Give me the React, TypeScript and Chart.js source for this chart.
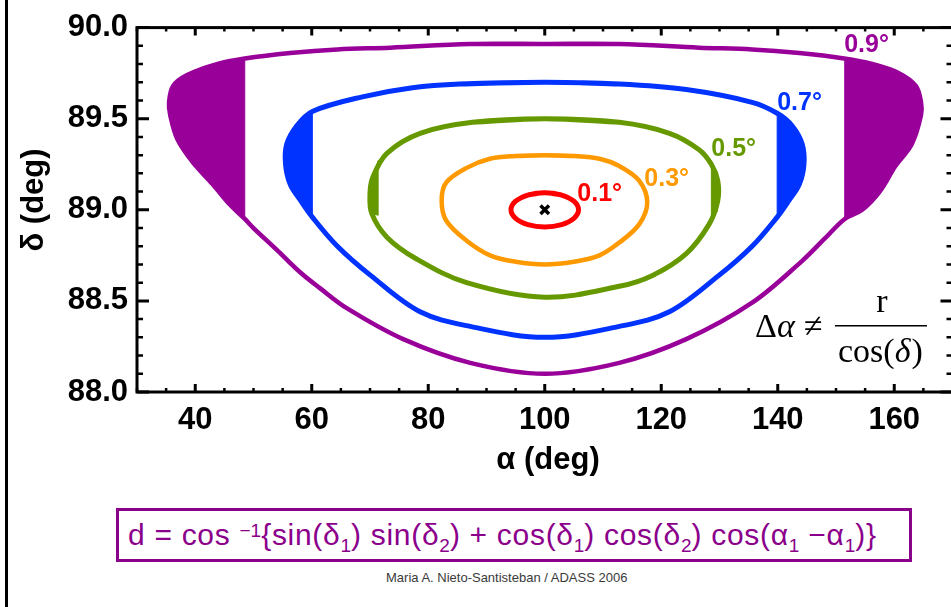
import React, { useEffect, useRef } from 'react';
import { Chart, registerables } from 'chart.js';

Chart.register(...registerables);

// ---------- tick labels ----------
const xTickValues = [40, 60, 80, 100, 120, 140, 160];
const yTickValues = [88.0, 88.5, 89.0, 89.5, 90.0];

// ---------- 0.9 deg contour ----------
const c09Alpha = [100, 112.8, 126.5, 135.6, 143.7, 151.4, 156.2, 160.8, 163.7, 164.6, 164.6, 163.0, 160.2, 157.5, 154.5, 151.5, 148.0, 144.2, 135.6, 124.3, 112.8, 100, 87.2, 75.7, 66.0, 61.4, 57.9, 54.0, 50.0, 48.5, 45.9, 43.0, 39.6, 36.9, 35.7, 35.5, 36.2, 38.6, 43.7, 48.5, 56.3, 64.4, 73.5, 87.2, 100];
const c09Delta = [89.91, 89.91, 89.89, 89.88, 89.86, 89.83, 89.80, 89.75, 89.68, 89.59, 89.52, 89.36, 89.24, 89.10, 89.00, 88.95, 88.84, 88.72, 88.49, 88.29, 88.16, 88.10, 88.16, 88.29, 88.46, 88.57, 88.66, 88.78, 88.90, 88.95, 89.03, 89.14, 89.26, 89.39, 89.52, 89.59, 89.68, 89.74, 89.80, 89.83, 89.86, 89.88, 89.89, 89.91, 89.91];
const c09LeftAlpha = [48.5, 43.7, 38.6, 36.2, 35.5, 35.7, 36.9, 39.6, 43.0, 45.9, 48.5, 48.5];
const c09LeftDelta = [89.83, 89.80, 89.74, 89.68, 89.59, 89.52, 89.39, 89.26, 89.14, 89.03, 88.95, 89.83];
const c09RightAlpha = [151.5, 156.2, 160.8, 163.7, 164.6, 164.6, 163.0, 160.2, 157.5, 154.5, 151.5, 151.5];
const c09RightDelta = [89.83, 89.80, 89.75, 89.68, 89.59, 89.52, 89.36, 89.24, 89.10, 89.00, 88.95, 89.83];

// ---------- 0.7 deg contour ----------
const c07Alpha = [100, 112.8, 124.3, 135.6, 139.9, 142.5, 144.2, 144.5, 143.7, 141.9, 139.9, 135.6, 129.9, 121.4, 112.8, 100, 87.2, 78.6, 70.1, 64.4, 60.1, 58.1, 56.3, 55.5, 55.7, 57.4, 60.1, 68.7, 77.3, 85.4, 100];
const c07Delta = [89.70, 89.69, 89.66, 89.59, 89.53, 89.46, 89.36, 89.25, 89.14, 89.05, 88.96, 88.80, 88.64, 88.44, 88.36, 88.30, 88.36, 88.44, 88.64, 88.80, 88.96, 89.05, 89.14, 89.25, 89.36, 89.46, 89.54, 89.62, 89.67, 89.69, 89.70];
const c07LeftAlpha = [60.1, 57.4, 55.7, 55.5, 56.3, 58.1, 60.1, 60.1];
const c07LeftDelta = [89.54, 89.46, 89.36, 89.25, 89.14, 89.05, 88.96, 89.54];
const c07RightAlpha = [139.9, 142.5, 144.2, 144.5, 143.7, 141.9, 139.9, 139.9];
const c07RightDelta = [89.53, 89.46, 89.36, 89.25, 89.14, 89.05, 88.96, 89.53];

// ---------- 0.5 deg contour ----------
const c05Alpha = [100, 112.8, 121.4, 126.5, 128.6, 129.7, 129.7, 128.2, 124.3, 118.5, 112.8, 100, 86.6, 78.0, 72.9, 70.3, 70.0, 70.5, 72.9, 78.6, 87.6, 100];
const c05Delta = [89.50, 89.48, 89.42, 89.33, 89.25, 89.16, 89.05, 88.92, 88.76, 88.64, 88.58, 88.52, 88.60, 88.73, 88.85, 88.98, 89.09, 89.18, 89.31, 89.42, 89.48, 89.50];
const c05LeftAlpha = [71.4, 70.5, 70.0, 70.3, 71.4, 71.4];
const c05LeftDelta = [89.27, 89.18, 89.09, 88.98, 88.97, 89.27];
const c05RightAlpha = [128.6, 129.6, 129.8, 129.6, 128.6, 128.6];
const c05RightDelta = [89.27, 89.18, 89.09, 88.99, 88.97, 89.27];

// ---------- 0.3 deg contour ----------
const c03Alpha = [100, 105.0, 109.4, 112.8, 116.2, 117.6, 116.2, 112.8, 109.4, 105.0, 100, 95.0, 90.6, 86.6, 83.1, 82.3, 83.1, 86.6, 90.6, 95.0, 100];
const c03Delta = [89.30, 89.295, 89.28, 89.24, 89.16, 89.04, 88.92, 88.82, 88.75, 88.715, 88.70, 88.715, 88.75, 88.83, 88.94, 89.05, 89.15, 89.23, 89.28, 89.295, 89.30];

// ---------- 0.1 deg contour ----------
const c01Alpha = [100, 102.9, 105.0, 105.8, 105.0, 102.9, 100, 97.1, 95.0, 94.2, 95.0, 97.1, 100];
const c01Delta = [89.094, 89.081, 89.047, 89.0, 88.953, 88.919, 88.906, 88.919, 88.953, 89.0, 89.047, 89.081, 89.094];

// ---------- centre ----------
const centreAlpha = [100];
const centreDelta = [89.0];

// ---------- contour labels ----------
const labelTexts = ['0.9°', '0.7°', '0.5°', '0.3°', '0.1°'];
const labelAlpha = [151.4, 139.9, 128.6, 117.1, 105.6];
const labelDelta = [89.866, 89.548, 89.296, 89.129, 89.048];

const PURPLE = '#990099';
const BLUE = '#0033FF';
const GREEN = '#669900';
const ORANGE = '#FF9900';
const RED = '#FF0000';
const labelColors = [PURPLE, BLUE, GREEN, ORANGE, RED];

const SANS = '"Liberation Sans", Arial, Helvetica, sans-serif';
const SERIF = '"Liberation Serif", "Times New Roman", serif';

function pts(a: number[], d: number[]) {
  return a.map((x, i) => ({ x, y: d[i] }));
}

// closed curve: wrap one point on each side so the spline has no corner at the seam
function loopPts(a: number[], d: number[]) {
  const p = pts(a, d);
  const n = p.length;
  return [p[n - 2], ...p, p[1]];
}

function lineSet(a: number[], d: number[], color: string, width: number) {
  return {
    data: loopPts(a, d),
    showLine: true,
    borderColor: color,
    backgroundColor: color,
    borderWidth: width,
    pointRadius: 0,
    tension: 0.35,
    fill: false,
  };
}

function fillSet(a: number[], d: number[], color: string) {
  return {
    data: pts(a, d),
    showLine: true,
    borderColor: color,
    backgroundColor: color,
    borderWidth: 1,
    pointRadius: 0,
    tension: 0,
    fill: 'shape',
  };
}

const framePlugin = {
  id: 'idlFrame',
  afterDatasetsDraw(chart: any) {
    const { ctx, chartArea } = chart;
    const xs = chart.scales.x;
    const ys = chart.scales.y;
    const { left, right, top, bottom } = chartArea;
    ctx.save();
    ctx.strokeStyle = '#000';
    ctx.lineWidth = 3;
    ctx.strokeRect(left, top, right - left, bottom - top);
    for (let v = 30; v <= 170; v += 5) {
      const px = xs.getPixelForValue(v);
      const major = v % 20 === 0;
      const len = major ? 8 : 4;
      ctx.lineWidth = major ? 3 : 2.5;
      ctx.beginPath();
      ctx.moveTo(px, bottom);
      ctx.lineTo(px, bottom - len);
      ctx.moveTo(px, top);
      ctx.lineTo(px, top + len);
      ctx.stroke();
    }
    for (let k = 0; k <= 20; k++) {
      const v = 88 + k * 0.1;
      const py = ys.getPixelForValue(v);
      const major = k % 5 === 0;
      const len = major ? 12 : 6;
      ctx.lineWidth = major ? 3 : 2.5;
      ctx.beginPath();
      ctx.moveTo(left, py);
      ctx.lineTo(left + len, py);
      ctx.moveTo(right, py);
      ctx.lineTo(right - len, py);
      ctx.stroke();
    }
    ctx.restore();
  },
  afterDraw(chart: any) {
    const { ctx } = chart;
    const xs = chart.scales.x;
    const ys = chart.scales.y;
    ctx.save();
    ctx.font = `bold 25px ${SANS}`;
    ctx.textAlign = 'left';
    ctx.textBaseline = 'alphabetic';
    labelTexts.forEach((t, i) => {
      ctx.fillStyle = labelColors[i];
      ctx.fillText(t, xs.getPixelForValue(labelAlpha[i]), ys.getPixelForValue(labelDelta[i]));
    });
    ctx.fillStyle = '#000';
    ctx.font = `bold 31px ${SANS}`;
    ctx.textAlign = 'center';
    ctx.fillText('α (deg)', 548, 469);
    ctx.save();
    ctx.translate(34, 200);
    ctx.rotate(-Math.PI / 2);
    ctx.textBaseline = 'middle';
    ctx.fillText('δ (deg)', 0, 0);
    ctx.restore();
    ctx.textAlign = 'left';
    ctx.textBaseline = 'alphabetic';
    ctx.font = `34px ${SERIF}`;
    ctx.fillText('Δ', 755, 337);
    ctx.font = `italic 34px ${SERIF}`;
    ctx.fillText('α', 777, 337);
    ctx.font = `34px ${SERIF}`;
    ctx.fillText('≠', 804, 337);
    ctx.textAlign = 'center';
    ctx.fillText('r', 882, 312);
    ctx.fillRect(835, 325, 92, 1.5);
    ctx.textAlign = 'left';
    let x = 838;
    ctx.fillText('cos(', x, 362);
    x += ctx.measureText('cos(').width;
    ctx.font = `italic 34px ${SERIF}`;
    ctx.fillText('δ', x, 362);
    x += ctx.measureText('δ').width + 1;
    ctx.font = `34px ${SERIF}`;
    ctx.fillText(')', x, 362);
    ctx.restore();
  },
};

const tickFont = { family: SANS, size: 31, weight: 'bold' as const };

function Sub({ children }: { children: React.ReactNode }) {
  return <span style={{ fontSize: 19, position: 'relative', top: 7, letterSpacing: 0 }}>{children}</span>;
}
function Sup({ children }: { children: React.ReactNode }) {
  return <span style={{ fontSize: 19, position: 'relative', top: -8, letterSpacing: 0 }}>{children}</span>;
}

export default function App() {
  const ref = useRef<HTMLCanvasElement>(null);

  useEffect(() => {
    if (!ref.current) return;
    const chart = new Chart(ref.current, {
      type: 'scatter',
      data: {
        datasets: [
          {
            data: pts(centreAlpha, centreDelta),
            showLine: false,
            pointStyle: 'crossRot',
            pointRadius: 6,
            borderWidth: 3.5,
            borderColor: '#000',
            backgroundColor: '#000',
          } as any,
          lineSet(c01Alpha, c01Delta, RED, 5),
          lineSet(c03Alpha, c03Delta, ORANGE, 4.5),
          lineSet(c05Alpha, c05Delta, GREEN, 5),
          fillSet(c05LeftAlpha, c05LeftDelta, GREEN),
          fillSet(c05RightAlpha, c05RightDelta, GREEN),
          lineSet(c07Alpha, c07Delta, BLUE, 5),
          fillSet(c07LeftAlpha, c07LeftDelta, BLUE),
          fillSet(c07RightAlpha, c07RightDelta, BLUE),
          lineSet(c09Alpha, c09Delta, PURPLE, 4.5),
          fillSet(c09LeftAlpha, c09LeftDelta, PURPLE),
          fillSet(c09RightAlpha, c09RightDelta, PURPLE),
        ] as any,
      },
      options: {
        animation: false,
        responsive: false,
        events: [],
        layout: { padding: { left: 0, top: 19, right: 8, bottom: 0 } },
        plugins: {
          legend: { display: false },
          tooltip: { enabled: false },
        },
        scales: {
          x: {
            type: 'linear',
            min: 30,
            max: 170,
            grid: { display: false, drawTicks: false },
            border: { display: false },
            afterBuildTicks: (s: any) => {
              s.ticks = xTickValues.map((v) => ({ value: v }));
            },
            afterFit: (s: any) => {
              s.height = 88;
            },
            ticks: {
              font: tickFont,
              color: '#000',
              padding: 10,
              maxRotation: 0,
              autoSkip: false,
              callback: (v: any) => String(v),
            },
          },
          y: {
            type: 'linear',
            min: 88,
            max: 90,
            grid: { display: false, drawTicks: false },
            border: { display: false },
            afterBuildTicks: (s: any) => {
              s.ticks = yTickValues.map((v) => ({ value: v }));
            },
            afterFit: (s: any) => {
              s.width = 137;
            },
            ticks: {
              font: tickFont,
              color: '#000',
              padding: 9,
              autoSkip: false,
              callback: (v: any) => Number(v).toFixed(1),
            },
          },
        },
      } as any,
      plugins: [framePlugin],
    });
    return () => chart.destroy();
  }, []);

  return (
    <div
      style={{
        position: 'fixed',
        left: 0,
        top: 0,
        width: 951,
        height: 607,
        overflow: 'hidden',
        background: '#fff',
      }}
    >
      <canvas
        ref={ref}
        width={962}
        height={480}
        style={{ position: 'absolute', left: 0, top: 0, width: 962, height: 480 }}
      />
      <div style={{ position: 'absolute', left: 5, top: 0, width: 3, height: 607, background: '#000' }} />
      <div
        style={{
          position: 'absolute',
          left: 116,
          top: 508,
          width: 796,
          height: 54,
          boxSizing: 'border-box',
          border: '3px solid #8B008B',
          color: '#8B008B',
          fontFamily: SANS,
          fontSize: 30,
          letterSpacing: '0.7px',
          lineHeight: '47px',
          paddingLeft: 9,
          whiteSpace: 'nowrap',
        }}
      >
        d = cos <Sup>−1</Sup>{'{'}sin(δ<Sub>1</Sub>) sin(δ<Sub>2</Sub>) + cos(δ<Sub>1</Sub>) cos(δ<Sub>2</Sub>) cos(α
        <Sub>1</Sub> −α<Sub>1</Sub>){'}'}
      </div>
      <div
        style={{
          position: 'absolute',
          left: 386,
          top: 570,
          fontFamily: SANS,
          fontSize: 13,
          lineHeight: '16px',
          color: '#3a3a3a',
          whiteSpace: 'nowrap',
        }}
      >
        Maria A. Nieto-Santisteban / ADASS 2006
      </div>
    </div>
  );
}
